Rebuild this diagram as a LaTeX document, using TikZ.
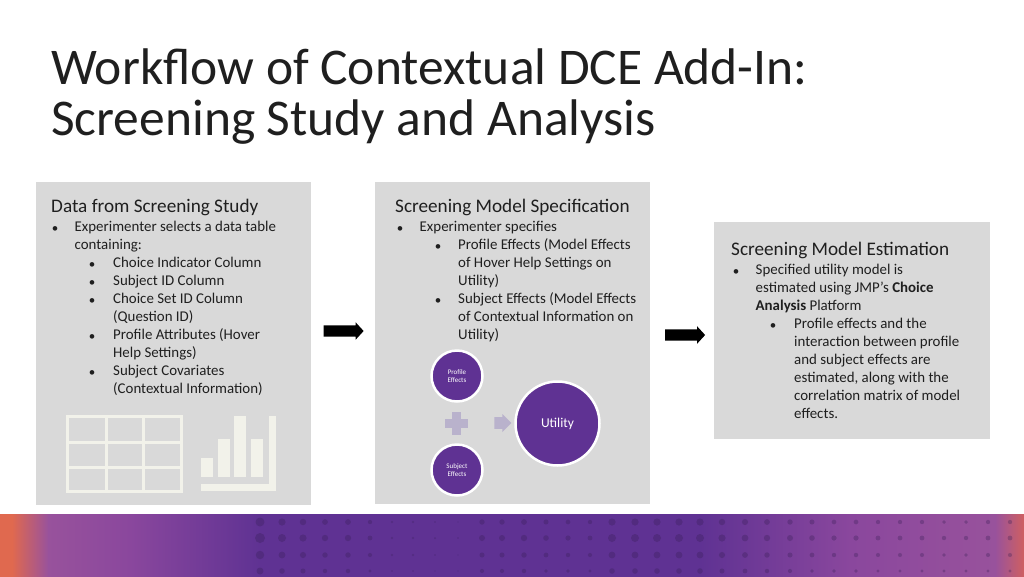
\documentclass[tikz,border=0pt]{standalone}
\usepackage{fontspec}
\setmainfont{Carlito}
\usetikzlibrary{shapes.arrows}
\definecolor{panelgray}{HTML}{D9D9D9}
\definecolor{iconcream}{HTML}{F2F2EA}
\definecolor{jmppurple}{HTML}{5F3293}
\definecolor{softpurple}{HTML}{B9B2CC}
\definecolor{midpurple}{HTML}{8A479D}
\definecolor{lightpurple}{HTML}{98529C}
\definecolor{coral}{HTML}{E0694F}
\definecolor{rosered}{HTML}{D06060}
\definecolor{inktext}{HTML}{1F1F1F}
\tikzset{
  paneltitle/.style={anchor=west,inner sep=0pt,text=inktext,font=\fontsize{19.2}{22}\selectfont},
  bodytext/.style={anchor=north west,inner sep=0pt,align=left,text=inktext,font=\fontsize{14.9}{18}\selectfont},
  bulletmark/.style={anchor=base,inner sep=0pt,text=inktext,font=\fontsize{13}{18}\selectfont},
  headline/.style={anchor=base west,inner sep=0pt,text=inktext,font=\fontsize{51.5}{52}\selectfont},
  blockarrow/.style={single arrow,fill=black,inner xsep=0pt,inner ysep=5.5pt,minimum height=40pt,minimum width=17pt,
    single arrow head extend=3pt,single arrow tip angle=95},
  bubble/.style={circle,fill=jmppurple,draw=white,line width=2.5pt,inner sep=0pt,align=center,text=white},
}
\begin{document}
\begin{tikzpicture}[x=1pt,y=-1pt]
  \useasboundingbox (0,0) rectangle (1024,576);
  \fill[white] (0,0) rectangle (1024,576);

  % title
  \node[headline] (headA) at (51,84) {Workflow of Contextual DCE Add-In:};
  \node[headline] (headB) at (51,135) {Screening Study and Analysis};

  % panels
  \fill[panelgray] (36,182) rectangle (311,505);
  \fill[panelgray] (375,182) rectangle (650,504);
  \fill[panelgray] (714,222) rectangle (990,439);

  % first panel
  \node[paneltitle] (dataT) at (51,207) {Data from Screening Study};
  \node[bulletmark] (b1) at (55,232) {•};
  \node[bodytext] (t1) at (74.5,221) {Experimenter selects a data table\\containing:};
  \node[bulletmark] (b2) at (92,268) {•};
  \node[bodytext] (t2) at (113,257) {Choice Indicator Column};
  \node[bulletmark] (b3) at (92,286) {•};
  \node[bodytext] (t3) at (113,275) {Subject ID Column};
  \node[bulletmark] (b4) at (92,304) {•};
  \node[bodytext] (t4) at (113,293) {Choice Set ID Column\\(Question ID)};
  \node[bulletmark] (b5) at (92,340) {•};
  \node[bodytext] (t5) at (113,328.5) {Profile Attributes (Hover\\Help Settings)};
  \node[bulletmark] (b6) at (92,376) {•};
  \node[bodytext] (t6) at (113,365) {Subject Covariates\\(Contextual Information)};

  % table icon
  \draw[iconcream,line width=3pt] (67,416) rectangle (181,491);
  \foreach \x in {106,143} \draw[iconcream,line width=3pt] (\x,416) -- (\x,491);
  \foreach \y in {442,467} \draw[iconcream,line width=3pt] (67,\y) -- (181,\y);

  % chart icon
  \foreach \xa/\xb/\ya in {201/213/458,218/230/439,234/246/416,251/263/439}
    \fill[iconcream] (\xa,\ya) rectangle (\xb,477);
  \fill[iconcream] (269,416) rectangle (276,491);
  \fill[iconcream] (201,484) rectangle (276,491);

  % second panel
  \node[paneltitle] (specT) at (395,207) {Screening Model Specification};
  \node[bulletmark] (c1) at (400,232) {•};
  \node[bodytext] (u1) at (419.5,221) {Experimenter specifies};
  \node[bulletmark] (c2) at (438,250) {•};
  \node[bodytext] (u2) at (458,238) {Profile Effects (Model Effects\\of Hover Help Settings on\\Utility)};
  \node[bulletmark] (c3) at (438,304) {•};
  \node[bodytext] (u3) at (458,292) {Subject Effects (Model Effects\\of Contextual Information on\\Utility)};

  \node[bubble,minimum size=51pt,font=\fontsize{7}{8}\selectfont] (profile) at (457,376) {Profile\\Effects};
  \node[bubble,minimum size=51pt,font=\fontsize{7}{8}\selectfont] (subject) at (457,470) {Subject\\Effects};
  \node[bubble,minimum size=84pt,font=\fontsize{13.5}{15}\selectfont] (utility) at (557.5,423.5) {Utility};
  \fill[softpurple] (445,419) rectangle (468,428);
  \fill[softpurple] (452,412) rectangle (461,435);
  \node[single arrow,fill=softpurple,inner xsep=0pt,inner ysep=4.5pt,minimum height=17pt,minimum width=18pt,
    single arrow head extend=2.5pt,single arrow tip angle=90] (plusarrow) at (500,423) {};

  % third panel
  \node[paneltitle] (estT) at (731,250) {Screening Model Estimation};
  \node[bulletmark] (d1) at (736,275) {•};
  \node[bodytext] (v1) at (755.5,264) {Specified utility model is\\estimated using JMP’s \textbf{Choice}\\\textbf{Analysis} Platform};
  \node[bulletmark] (d2) at (773,329) {•};
  \node[bodytext] (v2) at (794,318) {Profile effects and the\\interaction between profile\\and subject effects are\\estimated, along with the\\correlation matrix of model\\effects.};

  % block arrows
  \node[blockarrow] (arrowA) at (341,331) {};
  \node[blockarrow] (arrowB) at (682.5,335) {};

  % bottom band
  \foreach \xa/\xb/\ca/\cb in {0/12/coral/coral,12/48/coral/lightpurple,48/130/lightpurple/midpurple,130/260/midpurple/jmppurple,
    260/700/jmppurple/jmppurple,700/850/jmppurple/midpurple,850/995/midpurple/lightpurple,995/1024/lightpurple/rosered}
    \shade[left color=\ca,right color=\cb] (\xa,514) rectangle (\xb+0.5,576);
  \begin{scope}
    \clip (0,514) rectangle (1024,576);
    \foreach \x/\r in {260/5,282/4,303/3.6,325/3.2,348/3.2,370/2.4,392/1.2,413/1.2,435/1,458/.8,482/3,502/3,
      524/3.2,546/2.8,568/2.6,590/2.4,612/4,635/4,657/4,679/4,700/4,722/3.6,745/3.4,767/3.2,790/3,812/2.8,834/2.6,
      856/2.6,878/2.4,900/2.4,922/2.4,944/2.2,966/2.2,988/2.4,1010/2.4} {
      \foreach \y/\k in {522/.9,538/1,555/.85,571/.7}
        \fill[black!45!jmppurple,opacity=.3] (\x,\y) circle ({\r*\k});
    }
  \end{scope}
\end{tikzpicture}
\end{document}
